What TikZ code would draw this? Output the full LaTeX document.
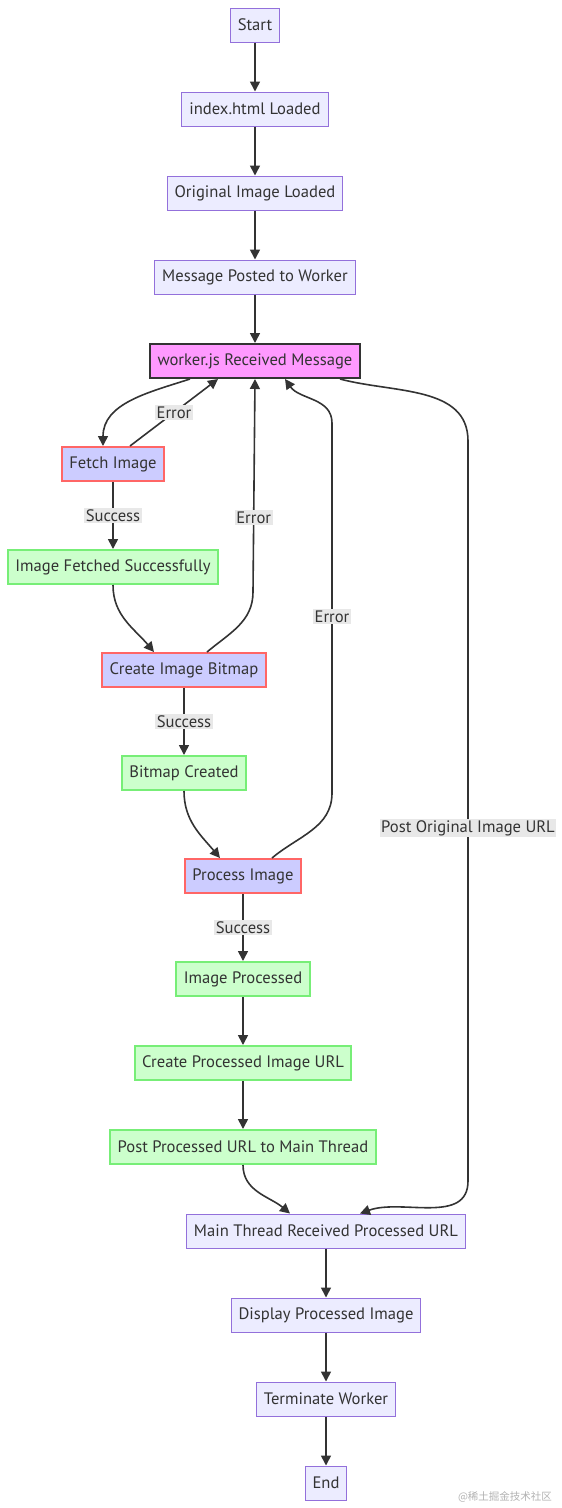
\documentclass[tikz,border=0pt]{standalone}
\usepackage{fontspec}
\setmainfont{PT Sans}
\newfontfamily\cjk{Noto Sans CJK SC}
\usepackage{xcolor}
\usepackage{tikz}
\usetikzlibrary{positioning, arrows.meta}

\definecolor{ink}{HTML}{333333}
\definecolor{plainfill}{HTML}{ECECFF}
\definecolor{plainline}{HTML}{9370DB}
\definecolor{workerfill}{HTML}{FF99FF}
\definecolor{stepfill}{HTML}{CCCCFF}
\definecolor{stepline}{HTML}{FF6666}
\definecolor{okfill}{HTML}{CCFFCC}
\definecolor{okline}{HTML}{77EE77}
\definecolor{lblfill}{HTML}{E8E8E8}

\begin{document}
\begin{tikzpicture}[x=1pt,y=1pt,node distance=84pt,on grid,
    font=\fontsize{16.6}{18}\selectfont, text=ink,
    box/.style={draw=plainline,fill=plainfill,line width=1pt,minimum height=34pt,inner xsep=7.5pt,inner ysep=0pt},
    workerbox/.style={box,draw=ink,fill=workerfill,line width=2pt},
    trybox/.style={box,draw=stepline,fill=stepfill,line width=2pt},
    okbox/.style={box,draw=okline,fill=okfill,line width=2pt},
    lbl/.style={fill=lblfill,inner sep=1.5pt,text=ink},
    flow/.style={draw=ink,line width=1.6pt,-{Triangle[length=10pt,width=10pt]}}]
       \useasboundingbox (0,0) rectangle (562,-1508);

       \node[box] (start) at (255,-25) {Start};
       \node[box] (index) [below=of start] {index.html Loaded};
       \node[box] (orig) [below=of index] {Original Image Loaded};
       \node[box] (posted) [below=of orig] {Message Posted to Worker};
       \node[workerbox] (worker) [below=of posted] {worker.js Received Message};

       \node[trybox] (fetch) [below left=103pt and 142pt of worker] {Fetch Image};
       \node[okbox] (fetched) [below=103pt of fetch] {Image Fetched Successfully};
       \node[trybox] (bitmap) [below right=103pt and 71pt of fetched] {Create Image Bitmap};
       \node[okbox] (created) [below=103pt of bitmap] {Bitmap Created};
       \node[trybox] (process) [below right=103pt and 59pt of created] {Process Image};
       \node[okbox] (processed) [below=103pt of process] {Image Processed};
       \node[okbox] (mkurl) [below=of processed] {Create Processed Image URL};
       \node[okbox] (posturl) [below=of mkurl] {Post Processed URL to Main Thread};

       \node[box] (mainrx) [below right=84pt and 83pt of posturl] {Main Thread Received Processed URL};
       \node[box] (display) [below=of mainrx] {Display Processed Image};
       \node[box] (term) [below=of display] {Terminate Worker};
       \node[box] (end) [below=of term] {End};

       \path[every edge/.style={flow}]
       (start) edge (index)
       (index) edge (orig)
       (orig) edge (posted)
       (posted) edge (worker)
       ([xshift=-65pt]worker.south) edge[out=198,in=90] ([xshift=-10pt]fetch.north)
       ([xshift=17pt]fetch.north) edge node[lbl,pos=0.5] {Error} ([xshift=-37pt]worker.south)
       (fetch) edge node[lbl] {Success} (fetched)
       (fetched) edge[out=-90,in=130] ([xshift=-30pt]bitmap.north)
       (bitmap) edge node[lbl] {Success} (created)
       (created) edge[out=-90,in=130] ([xshift=-23pt]process.north)
       (process) edge node[lbl] {Success} (processed)
       (processed) edge (mkurl)
       (mkurl) edge (posturl)
       (posturl) edge[out=-90,in=140] ([xshift=-36pt]mainrx.north)
       (mainrx) edge (display)
       (display) edge (term)
       (term) edge (end);

       % loops back to the worker
       \draw[flow] ([xshift=23pt]bitmap.north) to[out=40,in=-90] ++(46,60)
            -- node[lbl,pos=0.35] {Error} (worker.south);
       \draw[flow] ([xshift=29pt]process.north) to[out=40,in=-90] ++(60,65)
            -- node[lbl,pos=0.476] {Error} ++(0,370) to[out=90,in=-55] ([xshift=30pt]worker.south);
       \draw[flow] ([xshift=85pt]worker.south) to[out=-15,in=90] ++(128,-62)
            -- node[lbl,pos=0.523] {Post Original Image URL} ++(0,-740)
            to[out=-90,in=20] ([xshift=34pt]mainrx.north);

       \node[text=black!30,font=\cjk\fontsize{10.5}{12}\selectfont] (mark) at (505,-1497) {@稀土掘金技术社区};
    \end{tikzpicture}
\end{document}
